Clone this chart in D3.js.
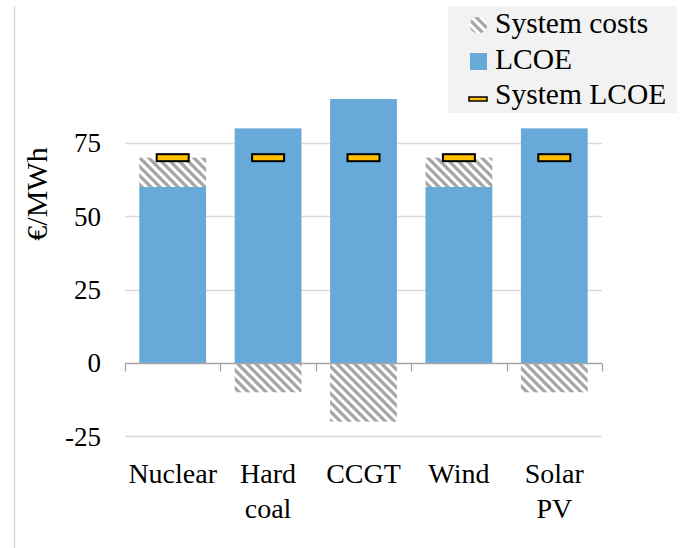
<!DOCTYPE html>
<html>
<head>
<meta charset="utf-8">
<script src="https://cdn.jsdelivr.net/npm/d3@7/dist/d3.min.js"></script>
<style>
  html, body { margin: 0; padding: 0; background: #fff; }
  svg { display: block; font-family: "Liberation Serif", "Times New Roman", serif; }
</style>
</head>
<body>
<svg id="chart" width="681" height="548"></svg>
<script>
const categories = ["Nuclear", "Hard\ncoal", "CCGT", "Wind", "Solar\nPV"];
const lcoe = [60, 80, 90, 60, 80];
const systemCosts = [10, -10, -20, 10, -10];
const systemLcoe = [70, 70, 70, 70, 70];
const yTicks = [-25, 0, 25, 50, 75];
const legendLabels = ["System costs", "LCOE", "System LCOE"];

const svg = d3.select("#chart");
const blue = "#67a9d8";
const hatchColor = "#a6a6a6";
const gridColor = "#d9d9d9";

const P = 9;
const defs = svg.append("defs");
const pat = defs.append("pattern")
  .attr("id", "hatch")
  .attr("patternUnits", "userSpaceOnUse")
  .attr("width", P).attr("height", P);
pat.append("rect").attr("width", P).attr("height", P).attr("fill", "#fff");
pat.append("path")
  .attr("d", `M-2,-2 L${P + 2},${P + 2} M-2,${P - 2} L2,${P + 2} M${P - 2},-2 L${P + 2},2`)
  .attr("stroke", hatchColor).attr("stroke-width", 3.3);

const x = d3.scaleBand().domain(categories).range([125, 602]).paddingInner(0.3).paddingOuter(0.15);
const y = d3.scaleLinear().domain([-25, 100]).range([436.3, 69.7]);

// left border line
svg.append("line").attr("x1", 14.5).attr("x2", 14.5).attr("y1", 6).attr("y2", 548)
  .attr("stroke", gridColor).attr("stroke-width", 1.5);

// gridlines
svg.append("g").selectAll("line").data(yTicks.filter(d => d !== 0)).join("line")
  .attr("x1", 125).attr("x2", 602)
  .attr("y1", d => Math.round(y(d)) + 0.5).attr("y2", d => Math.round(y(d)) + 0.5)
  .attr("stroke", gridColor).attr("stroke-width", 1.3);

// y tick labels
svg.append("g").selectAll("text").data(yTicks).join("text")
  .attr("x", 101).attr("y", d => y(d))
  .attr("dy", "0.35em")
  .attr("text-anchor", "end")
  .attr("font-size", 27)
  .attr("fill", "#000")
  .text(d => d);

// y axis title
svg.append("text")
  .attr("transform", "translate(47,194) rotate(-90)")
  .attr("text-anchor", "middle")
  .attr("font-size", 30)
  .text("€/MWh");

// LCOE bars
svg.append("g").selectAll("rect").data(categories).join("rect")
  .attr("x", d => x(d)).attr("width", x.bandwidth())
  .attr("y", (d, i) => y(lcoe[i]))
  .attr("height", (d, i) => y(0) - y(lcoe[i]))
  .attr("fill", blue);

// System cost bars (stacked on LCOE if positive, below zero if negative)
svg.append("g").selectAll("rect").data(categories).join("rect")
  .attr("x", d => x(d)).attr("width", x.bandwidth())
  .attr("y", (d, i) => systemCosts[i] >= 0 ? y(lcoe[i] + systemCosts[i]) : y(0))
  .attr("height", (d, i) => systemCosts[i] >= 0 ? y(lcoe[i]) - y(lcoe[i] + systemCosts[i]) : y(systemCosts[i]) - y(0))
  .attr("fill", "url(#hatch)");

// zero axis line and ticks
const y0 = Math.round(y(0)) + 0.5;
svg.append("line").attr("x1", 125).attr("x2", 602).attr("y1", y0).attr("y2", y0)
  .attr("stroke", "#a6a6a6").attr("stroke-width", 1.3);
const bounds = categories.map(d => x(d) - x.step() * x.paddingInner() / 2);
bounds[0] = 125;
bounds.push(602);
svg.append("g").selectAll("line").data(bounds).join("line")
  .attr("x1", d => Math.round(d) + 0.5).attr("x2", d => Math.round(d) + 0.5)
  .attr("y1", y0).attr("y2", y0 + 8)
  .attr("stroke", "#a6a6a6").attr("stroke-width", 1.3);

// System LCOE markers
svg.append("g").selectAll("rect").data(categories).join("rect")
  .attr("x", d => x(d) + x.bandwidth() / 2 - 16).attr("width", 32)
  .attr("y", (d, i) => y(systemLcoe[i]) - 3.5).attr("height", 7)
  .attr("fill", "#ffc000").attr("stroke", "#000").attr("stroke-width", 2);

// category labels
const catG = svg.append("g").selectAll("text").data(categories).join("text")
  .attr("x", d => x(d) + x.bandwidth() / 2)
  .attr("y", 483)
  .attr("text-anchor", "middle")
  .attr("font-size", 28);
catG.each(function(d) {
  const lines = d.split("\n");
  const t = d3.select(this);
  lines.forEach((ln, i) => {
    t.append("tspan").attr("x", x(d) + x.bandwidth() / 2).attr("dy", i === 0 ? 0 : 35).text(ln);
  });
});

// legend
const lg = svg.append("g");
lg.append("rect").attr("x", 448).attr("y", 6).attr("width", 229).attr("height", 107).attr("fill", "#f2f2f2");
const baselines = [33, 69, 104];
lg.append("rect").attr("x", 470).attr("y", 17).attr("width", 17).attr("height", 16).attr("rx", 7)
  .attr("fill", "url(#hatch)");
lg.append("rect").attr("x", 470).attr("y", 53).attr("width", 17).attr("height", 17).attr("fill", blue);
lg.append("rect").attr("x", 469).attr("y", 97).attr("width", 18).attr("height", 4)
  .attr("fill", "#ffc000").attr("stroke", "#000").attr("stroke-width", 1.5);
lg.selectAll("text").data(legendLabels).join("text")
  .attr("x", 495).attr("y", (d, i) => baselines[i])
  .attr("font-size", 29.5)
  .text(d => d);
</script>
</body>
</html>
